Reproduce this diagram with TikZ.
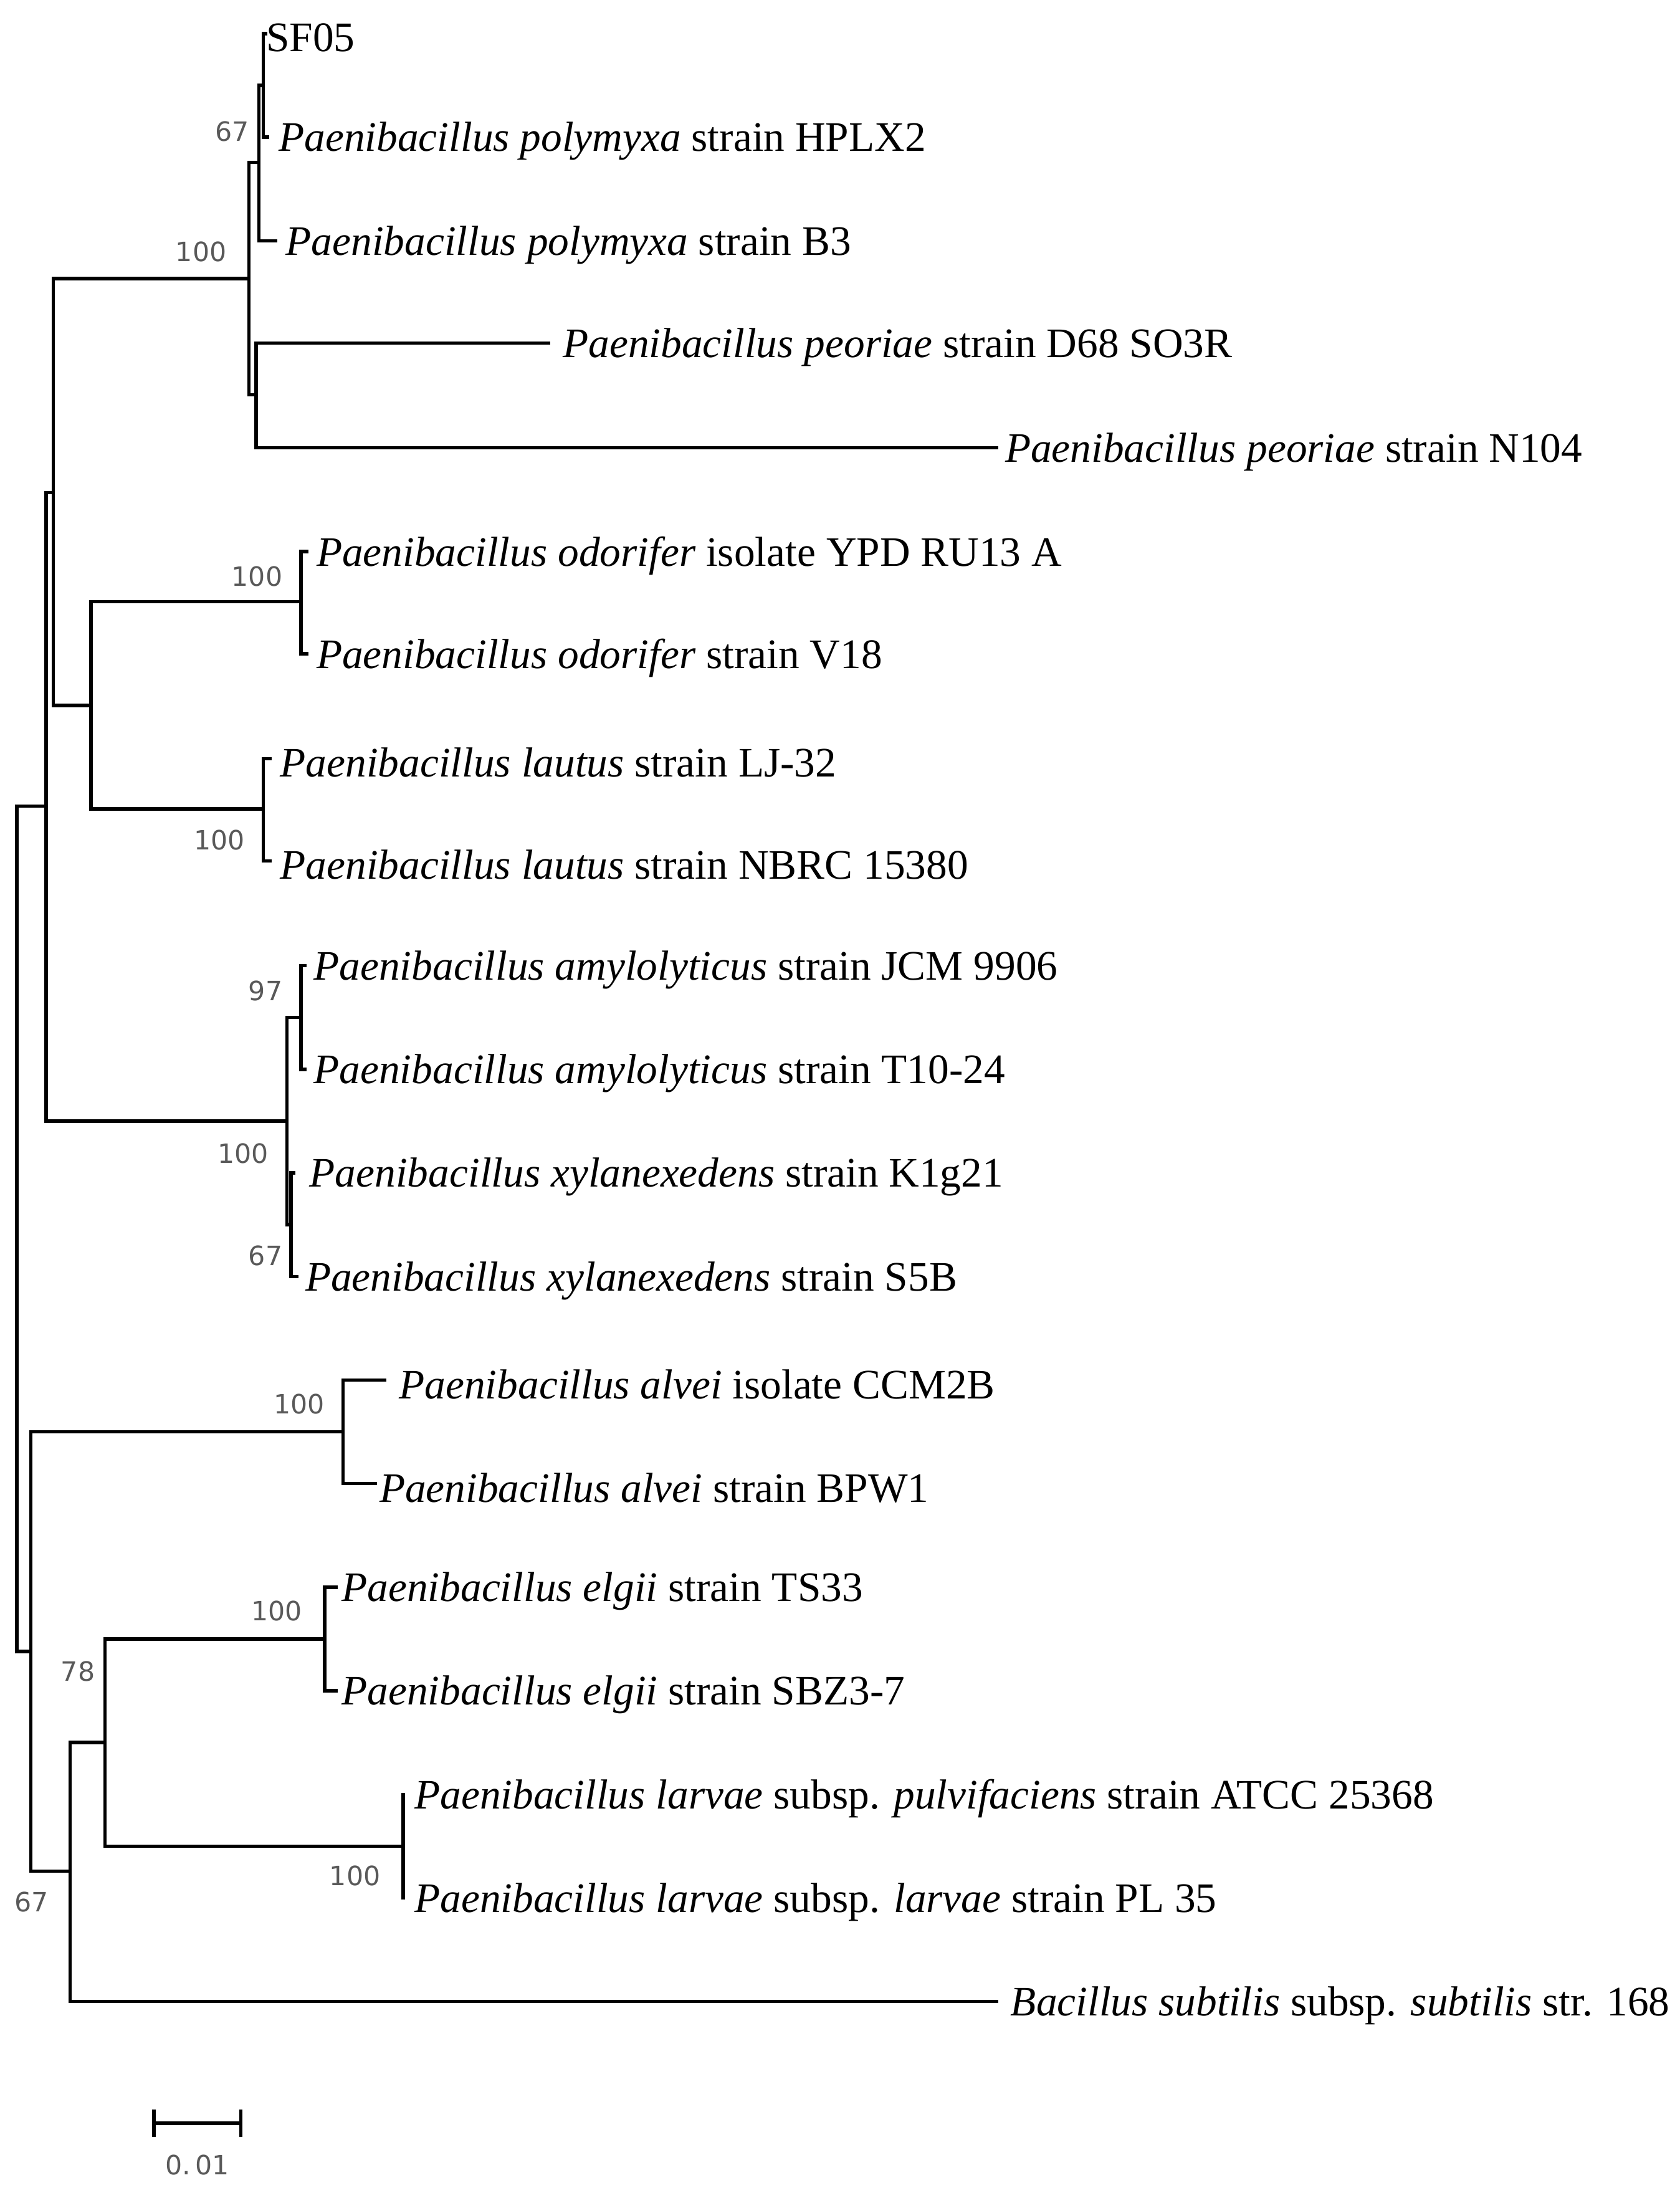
\documentclass[tikz,border=0pt]{standalone}
\usepackage{fontspec}
\setmainfont{Liberation Serif}
\newfontfamily\bootfont{DejaVu Sans}
\begin{document}
\begin{tikzpicture}[x=1pt,y=-1pt,
  br/.style={line width=2.4pt,line cap=rect},
  leaf/.style={anchor=west,inner sep=0pt,yshift=-3pt,font=\fontsize{30}{30}\selectfont},
  boot/.style={inner sep=0pt,text=black!65,font=\bootfont\fontsize{19}{19}\selectfont}]
\useasboundingbox (0,0) rectangle (1200,1574);
% leaves
\node[leaf] (l1) at (190,24) {SF05};
\node[leaf] (l2) at (199,98) {\textit{Paenibacillus polymyxa} strain HPLX2};
\node[leaf] (l3) at (204,172) {\textit{Paenibacillus polymyxa} strain B3};
\node[leaf] (l4) at (402,245) {\textit{Paenibacillus peoriae} strain D68 SO3R};
\node[leaf] (l5) at (718,320) {\textit{Paenibacillus peoriae} strain N104};
\node[leaf] (l6) at (226,394) {\textit{Paenibacillus odorifer} isolate YPD RU13 A};
\node[leaf] (l7) at (226,467) {\textit{Paenibacillus odorifer} strain V18};
\node[leaf] (l8) at (200,542) {\textit{Paenibacillus lautus} strain LJ-32};
\node[leaf] (l9) at (200,615) {\textit{Paenibacillus lautus} strain NBRC 15380};
\node[leaf] (l10) at (224,690) {\textit{Paenibacillus amylolyticus} strain JCM 9906};
\node[leaf] (l11) at (224,764) {\textit{Paenibacillus amylolyticus} strain T10-24};
\node[leaf] (l12) at (221,838) {\textit{Paenibacillus xylanexedens} strain K1g21};
\node[leaf] (l13) at (218,912) {\textit{Paenibacillus xylanexedens} strain S5B};
\node[leaf] (l14) at (285,986) {\textit{Paenibacillus alvei} isolate CCM2B};
\node[leaf] (l15) at (271,1060) {\textit{Paenibacillus alvei} strain BPW1};
\node[leaf] (l16) at (244,1134) {\textit{Paenibacillus elgii} strain TS33};
\node[leaf] (l17) at (244,1208) {\textit{Paenibacillus elgii} strain SBZ3-7};
\node[leaf] (l18) at (296,1282) {\textit{Paenibacillus larvae} subsp. \textit{pulvifaciens} strain ATCC 25368};
\node[leaf] (l19) at (296,1356) {\textit{Paenibacillus larvae} subsp. \textit{larvae} strain PL 35};
\node[leaf] (l20) at (722,1430) {\textit{Bacillus subtilis} subsp. \textit{subtilis} str. 168};
% tips
\coordinate (t1) at (190,24); \coordinate (t2) at (191,98); \coordinate (t3) at (197,172);
\coordinate (t4) at (392,245); \coordinate (t5) at (712,320);
\coordinate (t6) at (219,394); \coordinate (t7) at (219,467);
\coordinate (t8) at (193,542); \coordinate (t9) at (193,615);
\coordinate (t10) at (218,690); \coordinate (t11) at (218,764);
\coordinate (t12) at (210,838); \coordinate (t13) at (212,912);
\coordinate (t14) at (275,986); \coordinate (t15) at (268,1060);
\coordinate (t16) at (240,1134); \coordinate (t17) at (240,1208);
\coordinate (t18) at (288,1282); \coordinate (t19) at (288,1356);
\coordinate (t20) at (712,1430);
% internal nodes
\coordinate (nA) at (188,61);
\coordinate (nB) at (185,116);
\coordinate (nC) at (183,282);
\coordinate (nD) at (178,199);
\coordinate (nE) at (215,430);
\coordinate (nF) at (188,578);
\coordinate (nG) at (65,504);
\coordinate (nH) at (38,352);
\coordinate (nI) at (215,727);
\coordinate (nJ) at (208,875);
\coordinate (nK) at (205,801);
\coordinate (nL) at (33,576);
\coordinate (nM) at (245,1023);
\coordinate (nN) at (232,1171);
\coordinate (nO) at (288,1319);
\coordinate (nP) at (75,1245);
\coordinate (nQ) at (50,1337);
\coordinate (nR) at (22,1180);
\coordinate (nS) at (12,878);
\newcommand\clade[3]{\draw[br] (#2) -| (#1) |- (#3);}
\clade{nA}{t1}{t2}
\clade{nB}{nA}{t3}
\clade{nC}{t4}{t5}
\clade{nD}{nB}{nC}
\clade{nE}{t6}{t7}
\clade{nF}{t8}{t9}
\clade{nG}{nE}{nF}
\clade{nH}{nD}{nG}
\clade{nI}{t10}{t11}
\clade{nJ}{t12}{t13}
\clade{nK}{nI}{nJ}
\clade{nL}{nH}{nK}
\clade{nM}{t14}{t15}
\clade{nN}{t16}{t17}
\clade{nO}{t18}{t19}
\clade{nP}{nN}{nO}
\clade{nQ}{nP}{t20}
\clade{nR}{nM}{nQ}
\clade{nS}{nL}{nR}
% bootstrap labels
\node[boot,anchor=east] (b1) at (178,94) {67};
\node[boot,anchor=east] (b2) at (162,180) {100};
\node[boot,anchor=east] (b3) at (202,412) {100};
\node[boot,anchor=east] (b4) at (175,600) {100};
\node[boot,anchor=east] (b5) at (202,708) {97};
\node[boot,anchor=east] (b6) at (192,824) {100};
\node[boot,anchor=east] (b7) at (202,897) {67};
\node[boot,anchor=east] (b8) at (232,1003) {100};
\node[boot,anchor=east] (b9) at (216,1151) {100};
\node[boot,anchor=east] (b10) at (272,1340) {100};
\node[boot,anchor=east] (b11) at (68,1194) {78};
\node[boot,anchor=east] (b12) at (35,1359) {67};
% scale bar
\coordinate (s1) at (110,1517); \coordinate (s2) at (172,1517);
\draw[line width=2.4pt] (s1) -- (s2);
\draw[line width=2.4pt] ([yshift=-10]s1) -- ([yshift=10]s1);
\draw[line width=2.4pt] ([yshift=-10]s2) -- ([yshift=10]s2);
\node[boot] (sl) at (141,1547) {0.\,01};
\end{tikzpicture}
\end{document}
